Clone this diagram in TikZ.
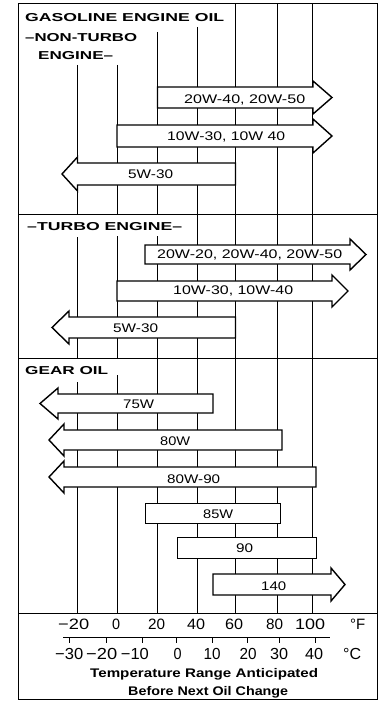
\documentclass[tikz,border=0pt]{standalone}
\usepackage{fontspec}
\setmainfont{Liberation Sans}
\newcommand\sw[2]{\resizebox{#1pt}{\height}{#2}}
% right-pointing bar: name, x0, head base x, y top, y bottom, tip x
\newcommand\barR[6]{%
  \draw[barbox] (#2,#4) -- (#3,#4) -- (#3,#4-6) -- (#6,{(#4+#5)/2}) -- (#3,#5+6) -- (#3,#5) -- (#2,#5) -- cycle;
  \coordinate (#1) at ({(#2+#3)/2},{(#4+#5)/2});}
% left-pointing bar: name, x right end, head base x, y top, y bottom, tip x
\newcommand\barL[6]{%
  \draw[barbox] (#2,#4) -- (#3,#4) -- (#3,#4-6) -- (#6,{(#4+#5)/2}) -- (#3,#5+6) -- (#3,#5) -- (#2,#5) -- cycle;
  \coordinate (#1) at ({(#2+#3)/2},{(#4+#5)/2});}
% plain bar: name, x0, x1, y top, y bottom
\newcommand\barN[5]{%
  \draw[barbox,line width=1pt] (#2,#4) -- (#3,#4) -- (#3,#5) -- (#2,#5) -- cycle;
  \coordinate (#1) at ({(#2+#3)/2},{(#4+#5)/2});}
\begin{document}
\begin{tikzpicture}[x=1pt,y=-1pt,
  gridl/.style={line width=0.9pt},
  framel/.style={line width=1pt},
  barbox/.style={draw,fill=white,line width=1.4pt,line join=miter},
  ttl/.style={font=\bfseries\fontsize{11.5}{13}\selectfont,anchor=base west,inner sep=0pt},
  lab/.style={font=\fontsize{12.5}{14}\selectfont,anchor=base west,inner sep=0pt},
  axf/.style={font=\fontsize{15}{16}\selectfont,anchor=base west,inner sep=0pt},
  axc/.style={font=\fontsize{16}{17}\selectfont,anchor=base west,inner sep=0pt},
  captxt/.style={font=\bfseries\fontsize{12.5}{14}\selectfont,anchor=base west,inner sep=0pt}]
\useasboundingbox[fill=white] (0,0) rectangle (378,701);

% frame and separators
\draw[framel] (18,4) -- (377,4) -- (377,699) -- (18,699) -- cycle;
\draw[framel] (18,214) -- (377,214);
\draw[framel] (18,358) -- (377,358);
\draw[framel] (18,613) -- (377,613);

% vertical grid lines (deg F)
\draw[gridl] (77.5,65) -- (77.5,214) (77.5,237) -- (77.5,358) (77.5,382) -- (77.5,613);
\draw[gridl] (117,65) -- (117,214) (117,236) -- (117,358) (117,375) -- (117,613);
\draw[gridl] (157.5,32) -- (157.5,214) (157.5,236) -- (157.5,613);
\draw[gridl] (197,27) -- (197,613);
\draw[gridl] (235.5,4) -- (235.5,613);
\draw[gridl] (277,4) -- (277,613);
\draw[gridl] (312.5,4) -- (312.5,613);

% titles
\node[ttl] (t1) at (25,22) {\sw{199}{GASOLINE ENGINE OIL}};
\node[ttl] (t2) at (25,41.7) {\sw{112}{–NON-TURBO}};
\node[ttl] (t3) at (38,59.3) {\sw{75}{ENGINE–}};
\node[ttl] (t4) at (27,230) {\sw{155}{–TURBO ENGINE–}};
\node[ttl] (t5) at (25,374) {\sw{83}{GEAR OIL}};

% non-turbo bars
\barR{b1}{157.5}{313}{87}{108}{332}
\node[lab] (l1) at (184,103.3) {\sw{121}{20W-40, 20W-50}};
\barR{b2}{117}{313}{125}{147}{332}
\node[lab] (l2) at (167,140.7) {\sw{118}{10W-30, 10W 40}};
\barL{b3}{235.5}{77.5}{163}{185}{62}
\node[lab] (l3) at (128,178.3) {\sw{45}{5W-30}};

% turbo bars
\barR{b4}{145}{350}{245}{264}{366}
\node[lab] (l4) at (157,258.3) {\sw{185}{20W-20, 20W-40, 20W-50}};
\barR{b5}{117}{332}{281}{301}{348}
\node[lab] (l5) at (173,294.3) {\sw{120}{10W-30, 10W-40}};
\barL{b6}{235.5}{69}{317}{338}{52}
\node[lab] (l6) at (113,332.3) {\sw{45}{5W-30}};

% gear oil bars
\barL{b7}{213}{58}{394}{413}{40}
\node[lab] (l7) at (123,408.3) {\sw{31}{75W}};
\barL{b8}{282}{64}{430}{450}{49}
\node[lab] (l8) at (160,445) {\sw{30}{80W}};
\barL{b9}{316}{64}{467}{487}{49}
\node[lab] (l9) at (167,483.3) {\sw{53}{80W-90}};
\barN{b10}{145}{280}{503}{523}
\node[lab] (l10) at (203,518.3) {\sw{30}{85W}};
\barN{b11}{177}{316}{537}{558}
\node[lab] (l11) at (236,552.7) {\sw{17}{90}};
\barR{b12}{213}{331}{574}{595}{345}
\node[lab] (l12) at (261,590) {\sw{25}{140}};

% deg F scale labels
\node[axf] (f1) at (58,629.3) {\sw{31}{−20}};
\node[axf] (f2) at (112,629.3) {\sw{8}{0}};
\node[axf] (f3) at (148,629.3) {\sw{17}{20}};
\node[axf] (f4) at (187,629.3) {\sw{18}{40}};
\node[axf] (f5) at (225,629.3) {\sw{18}{60}};
\node[axf] (f6) at (266,629.3) {\sw{17}{80}};
\node[axf] (f7) at (295,629.3) {\sw{30}{100}};
\node[axf] (fu) at (350,629.3) {°F};

% deg C scale
\draw[gridl] (63,637) -- (330,637);
\foreach \cx in {69,106,142,176,212,247,279,315}
  \draw[gridl] (\cx,637) -- (\cx,643);
\node[axc] (c1) at (55,659.3) {\sw{28}{−30}};
\node[axc] (c2) at (86,659.3) {\sw{31}{−20}};
\node[axc] (c3) at (120.7,659.3) {\sw{28}{−10}};
\node[axc] (c4) at (173.3,659.3) {\sw{8}{0}};
\node[axc] (c5) at (203.3,659.3) {\sw{17}{10}};
\node[axc] (c6) at (239.3,659.3) {\sw{17}{20}};
\node[axc] (c7) at (270,659.3) {\sw{18}{30}};
\node[axc] (c8) at (305,659.3) {\sw{18}{40}};
\node[axc] (cu) at (343,659.3) {°C};

% caption
\node[captxt] (k1) at (90,677) {\sw{228}{Temperature Range Anticipated}};
\node[captxt] (k2) at (128,695) {\sw{160}{Before Next Oil Change}};
\end{tikzpicture}
\end{document}
